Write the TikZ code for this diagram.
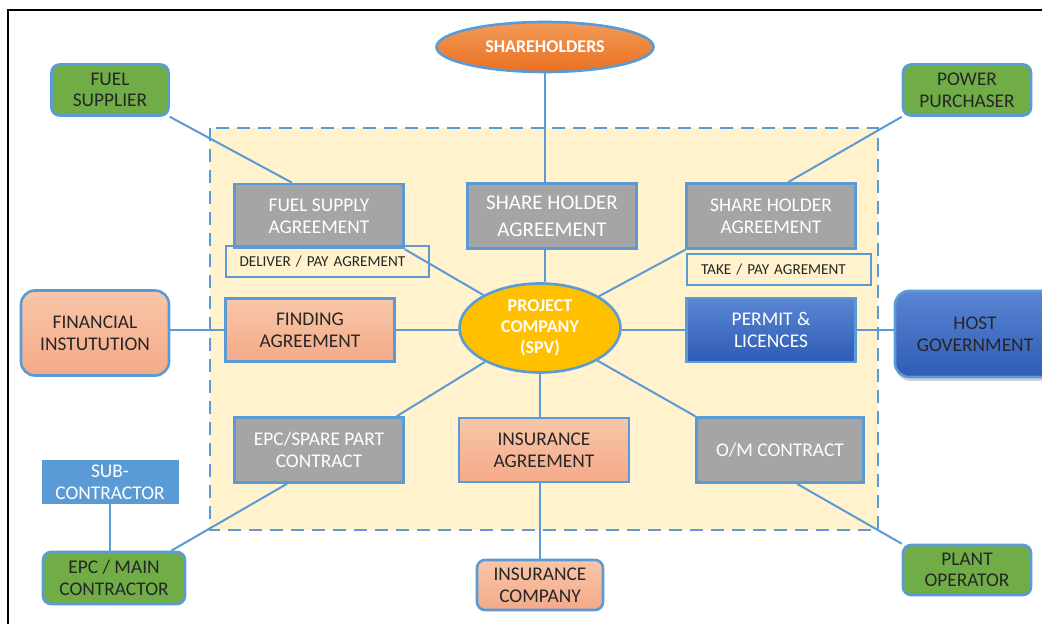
\documentclass[tikz,border=0pt]{standalone}
\usepackage{fontspec}
\setmainfont{Carlito}
\usetikzlibrary{calc,shapes.geometric,shadows}
\definecolor{linkblue}{HTML}{5B9BD5}
\definecolor{partygreen}{HTML}{70AD47}
\definecolor{boxgrey}{HTML}{A5A5A5}
\definecolor{areacream}{HTML}{FFF2CC}
\definecolor{salmontop}{HTML}{F8C6A8}
\definecolor{salmonbot}{HTML}{F4AA88}
\definecolor{permtop}{HTML}{5A86D2}
\definecolor{permbot}{HTML}{2E5BB6}
\definecolor{ortop}{HTML}{F39A58}
\definecolor{orbot}{HTML}{E97020}
\definecolor{spvgold}{HTML}{FFC000}
\definecolor{darktext}{HTML}{262626}
\tikzset{
  link/.style={draw=linkblue, line width=1pt},
  agree/.style={rectangle, draw=linkblue, line width=1.3pt, inner sep=0pt, align=center,
    minimum width=84.5pt, minimum height=32pt, font=\fontsize{9.7}{10.8}\selectfont},
  greyagree/.style={agree, fill=boxgrey, text=white},
  salmonagree/.style={agree, top color=salmontop, bottom color=salmonbot, text=darktext},
  blueagree/.style={agree, top color=permtop, bottom color=permbot, text=white},
  party/.style={rectangle, rounded corners=4pt, draw=linkblue, line width=1.3pt, inner sep=0pt,
    align=center, font=\fontsize{9.7}{10.8}\selectfont, text=darktext},
  greenparty/.style={party, fill=partygreen, minimum width=64pt, minimum height=25.5pt},
  termnote/.style={rectangle, draw=linkblue, line width=1pt, inner xsep=7pt, inner ysep=0pt,
    minimum height=15.5pt, align=left, font=\fontsize{7.6}{9}\selectfont, text=darktext},
  oval/.style={ellipse, draw=linkblue, line width=1.3pt, inner sep=0pt, align=center,
    text=white, font=\fontsize{9}{10.6}\selectfont\bfseries}
}
\begin{document}
\begin{tikzpicture}[x=0.5pt,y=-0.5pt]
\clip (0,0) rectangle (1042,624);
\fill[white] (0,0) rectangle (1042,624);
\draw[line width=1pt] (8,624) -- (8,10) -- (1042,10);
\draw[linkblue, fill=areacream, line width=1.1pt, dash pattern=on 6.5pt off 4pt] (210,128) rectangle (878,530);

\node[oval, top color=ortop, bottom color=orbot, minimum width=108.5pt, minimum height=25pt] (sh) at (545,47) {SHAREHOLDERS};
\node[greenparty, minimum width=58.5pt] (fuel) at (110,90) {FUEL\\SUPPLIER};
\node[greenparty] (power) at (967,90) {POWER\\PURCHASER};

\node[greyagree] (fsa) at (319,216) {FUEL SUPPLY\\AGREEMENT};
\node[termnote, text width=87.5pt] (dpa) at (327,262) {DELIVER / PAY AGREMENT};
\node[greyagree, minimum height=32.5pt, font=\fontsize{10.5}{13.3}\selectfont] (sha) at (552,216) {SHARE HOLDER\\AGREEMENT};
\node[greyagree, minimum height=32.5pt] (psa) at (771,216) {SHARE HOLDER\\AGREEMENT};
\node[termnote, text width=78pt] (tpa) at (779,270) {TAKE / PAY AGREMENT};

\node[party, rounded corners=7pt, top color=salmontop, bottom color=salmonbot, minimum width=74pt, minimum height=42.5pt] (fin) at (95,333) {FINANCIAL\\INSTUTUTION};
\node[salmonagree, minimum height=31.5pt] (fa) at (310,330) {FINDING\\AGREEMENT};
\node[oval, fill=spvgold, minimum width=80.5pt, minimum height=44.5pt] (pc) at (540,328) {PROJECT\\COMPANY\\(SPV)};
\node[blueagree] (perm) at (771,330) {PERMIT \&\\LICENCES};
\node[party, rounded corners=7pt, top color=permtop, bottom color=permbot, minimum width=80pt, minimum height=43pt,
  drop shadow={opacity=0.35, shadow xshift=0.5pt, shadow yshift=-2pt}] (host) at (975,334) {HOST\\GOVERNMENT};

\node[greyagree, minimum height=32.5pt] (epcs) at (319,450) {EPC/SPARE PART\\CONTRACT};
\node[salmonagree, minimum width=85pt] (ins) at (544,450) {INSURANCE\\AGREEMENT};
\node[greyagree, minimum width=83.5pt, minimum height=32.5pt] (om) at (780,450) {O/M CONTRACT};

\node[rectangle, fill=linkblue, text=white, align=center, inner sep=0pt, minimum width=68.5pt, minimum height=22pt,
  font=\fontsize{9.7}{10.8}\selectfont] (sub) at (110,482) {SUB-\\CONTRACTOR};
\node[greenparty, minimum width=71pt, minimum height=26pt] (epc) at (114,578) {EPC / MAIN\\CONTRACTOR};
\node[party, top color=salmontop, bottom color=salmonbot, minimum width=63pt, minimum height=25pt] (insc) at (540,585) {INSURANCE\\COMPANY};
\node[greenparty, minimum height=25pt] (plant) at (967,570) {PLANT\\OPERATOR};

\draw[link] (sh.south) -- (sh.south |- sha.north);
\draw[link] (sh.south |- sha.south) -- (sh.south |- pc.north);
\draw[link] (fuel.south east) -- ($(fsa.north)+(-27,0)$);
\draw[link] (fsa.south east) -- (pc);
\draw[link] (pc) -- (psa.south west);
\draw[link] (power.south west) -- ($(psa.north)+(17,0)$);
\draw[link] (fa.west) -- (fa.west -| fin.east);
\draw[link] (fa.east) -- (fa.east -| pc.west);
\draw[link] (perm.west) -- (perm.west -| pc.east);
\draw[link] (perm.east) -- (perm.east -| host.west);
\draw[link] (pc) -- ($(epcs.north east)+(-8,0)$);
\draw[link] ($(epcs.south)+(-32,0)$) -- ($(epc.north east)+(-15,0)$);
\draw[link] (sub.south) -- (sub.south |- epc.north);
\draw[link] (insc.north |- pc.south) -- (insc.north |- ins.north);
\draw[link] (insc.north |- ins.south) -- (insc.north);
\draw[link] (pc) -- (om.north west);
\draw[link] ($(om.south)+(17,0)$) -- (plant.north west);
\end{tikzpicture}
\end{document}
